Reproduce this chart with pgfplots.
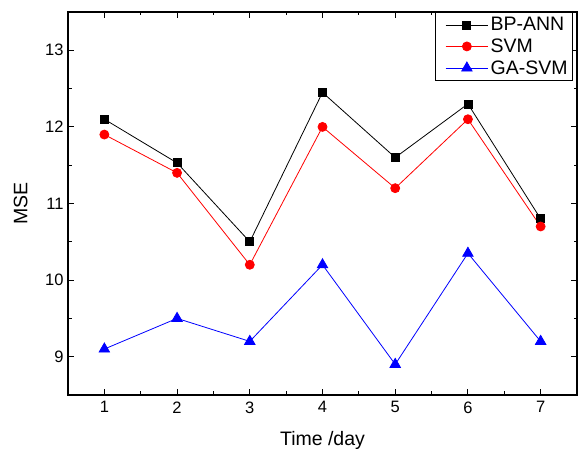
\documentclass[border=0pt]{standalone}
\usepackage{pgfplots}
\pgfplotsset{compat=1.18}
\usepackage{fontspec}
\setmainfont{Liberation Sans}
\begin{document}
\begin{tikzpicture}
\begin{axis}[
    at={(0,0)}, anchor=south west,
    scale only axis,
    width=509pt, height=383pt,
    xmin=0.5, xmax=7.5,
    ymin=8.5, ymax=13.5,
    xtick={1,2,3,4,5,6,7},
    ytick={9,10,11,12,13},
    minor x tick num=1,
    minor y tick num=1,
    tick align=inside,
    major tick length=6pt,
    minor tick length=3.5pt,
    every tick/.style={black, line width=0.9pt},
    axis line style={line width=1.2pt},
    /pgf/number format/assume math mode=true,
    ticklabel style={font=\fontsize{16.5}{19}\selectfont},
    xticklabel style={yshift=-3pt},
    yticklabel style={xshift=-1pt},
    xlabel={Time /day},
    ylabel={MSE},
    label style={font=\fontsize{19.5}{23}\selectfont},
    xlabel style={at={(axis description cs:0.5,0)}, anchor=north, yshift=-33pt},
    ylabel style={at={(axis description cs:0,0.5)}, anchor=south, yshift=37pt},
    legend style={at={(axis description cs:1,1)}, anchor=north east, xshift=-4pt,
        draw=black, line width=0.9pt,
        nodes={font=\fontsize{19.5}{22}\selectfont, inner sep=2pt},
        inner sep=3pt, row sep=2.5pt},
    legend cell align=left,
    legend image code/.code={
        \path (-0.25cm,0cm);
        \draw[mark repeat=2,mark phase=2] plot coordinates {(0cm,0cm) (0.75cm,0cm) (1.5cm,0cm)};
    },
]
\addplot[black, line width=0.8pt, mark=square*, mark size=4pt, mark options={solid}]
  coordinates {(1,12.1) (2,11.53) (3,10.5) (4,12.45) (5,11.6) (6,12.3) (7,10.8)};
\addplot[red, line width=0.8pt, mark=*, mark size=4.5pt]
  coordinates {(1,11.9) (2,11.4) (3,10.2) (4,12.0) (5,11.2) (6,12.1) (7,10.7)};
\addplot[blue, line width=0.8pt, mark=triangle*, mark size=6pt]
  coordinates {(1,9.1) (2,9.5) (3,9.2) (4,10.2) (5,8.9) (6,10.35) (7,9.2)};
\legend{BP-ANN, SVM, GA-SVM}
\end{axis}
\pgfresetboundingbox
\path[use as bounding box] (-68pt,-54pt) rectangle (513pt,395pt);
\end{tikzpicture}
\end{document}
